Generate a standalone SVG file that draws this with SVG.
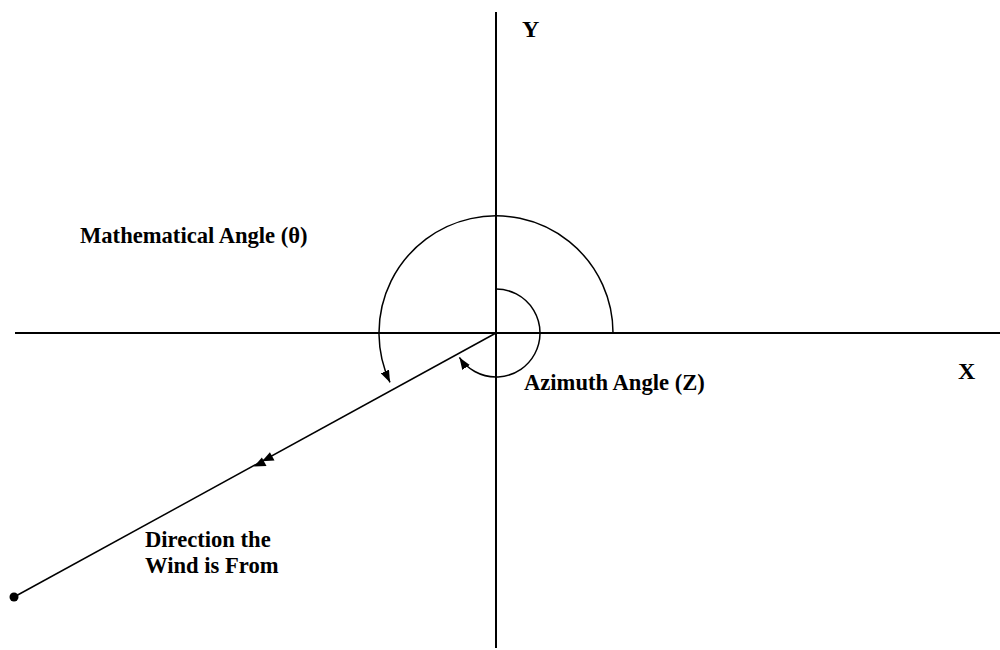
<svg xmlns="http://www.w3.org/2000/svg" width="1000" height="650" viewBox="0 0 1000 650">
<style>
.ax{stroke:#000;stroke-width:2;fill:none}
.ln{stroke:#000;stroke-width:1.5;fill:none}
.lbl{font-family:"Liberation Serif","Times New Roman",serif;font-weight:bold;fill:#000;font-size:22.6px}
.big{font-size:24px}
.ah{fill:#000}
</style>
<defs>
<marker id="arr" viewBox="0 0 12 9" refX="12" refY="4.5" markerWidth="12" markerHeight="9" markerUnits="userSpaceOnUse" orient="auto">
<path d="M0,0 L12,4.5 L0,9 Z" fill="#000"/>
</marker>
</defs>
<rect width="1000" height="650" fill="#fff"/>
<g id="connectors">
<line id="x-axis" class="ax" x1="15" y1="333" x2="1000" y2="333"/>
<line id="y-axis" class="ax" x1="496" y1="12" x2="496" y2="648"/>
<path id="math-arc" class="ln" d="M613,333 A117,117 0 1 0 390,382.4" marker-end="url(#arr)"/>
<path id="az-arc" class="ln" d="M496,289 A44,44 0 1 1 459.4,357.4" marker-end="url(#arr)"/>
<line id="wind-line" class="ln" x1="496" y1="333" x2="14" y2="597"/>
<polygon class="ah" points="262,461.2 274.5,460.6 269.9,452.2"/>
<polygon class="ah" points="254,466.6 266.5,466 261.9,457.6"/>
</g>
<g id="wind-origin"><circle cx="14" cy="597" r="4.5" fill="#000"/></g>
<g id="label-y"><text class="lbl big" x="522" y="37">Y</text></g>
<g id="label-x"><text class="lbl big" x="958" y="379">X</text></g>
<g id="label-math"><text class="lbl" x="80" y="243">Mathematical Angle (θ)</text></g>
<g id="label-az"><text class="lbl" x="524" y="390">Azimuth Angle (Z)</text></g>
<g id="label-wind"><text class="lbl"><tspan x="145" y="547">Direction the</tspan><tspan x="145" y="573">Wind is From</tspan></text></g>
</svg>
